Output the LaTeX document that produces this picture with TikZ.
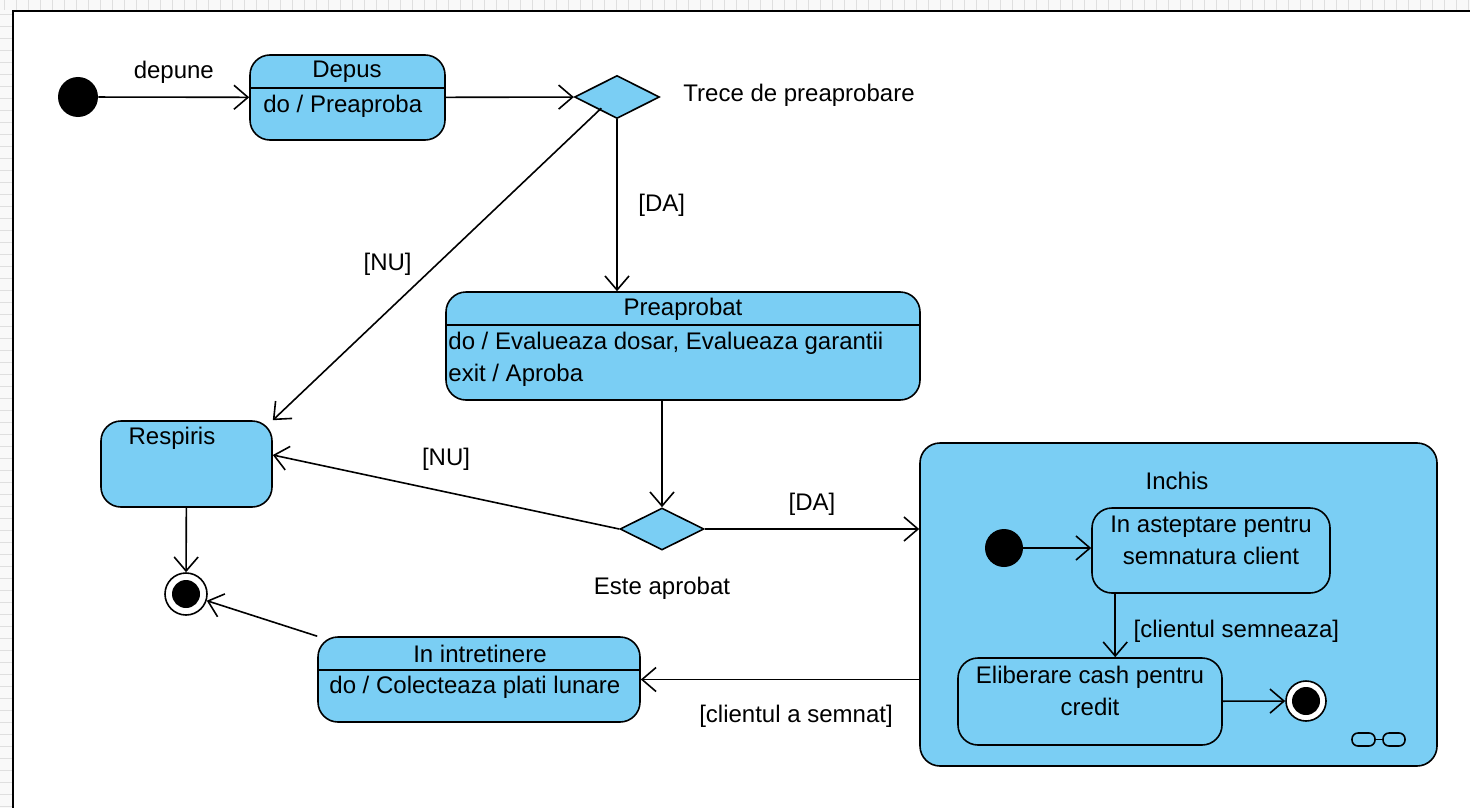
\documentclass[tikz,border=0pt]{standalone}
\usepackage{fontspec}
\setmainfont{Liberation Sans}
\usepackage{xcolor}
\usepackage{tikz}
\usetikzlibrary{shapes.geometric, arrows.meta, fit}

\definecolor{stateblue}{RGB}{122,206,244}

\tikzset{
    box/.style={draw, fill=stateblue, rounded corners=10pt, line width=0.8pt, inner sep=0pt},
    choice/.style={diamond, draw, fill=stateblue, line width=0.8pt, inner sep=0pt, aspect=2},
    start/.style={circle, fill=black, inner sep=0pt},
    stop/.style={circle, draw, fill=white, line width=0.8pt, inner sep=0pt,
        path picture={\fill[black] (path picture bounding box.center) circle (7pt);}},
    txt/.style={inner sep=0pt},
    tr/.style={line width=0.8pt, -{Straight Barb[length=7pt,width=12pt]}}
}

\begin{document}
\begin{tikzpicture}[x=0.5pt, y=-0.5pt, font=\fontsize{12}{16}\selectfont]
    \useasboundingbox (0,0) rectangle (1470,808);
    \fill[gray!5] (0,0) rectangle (1470,11);
    \fill[gray!5] (0,0) rectangle (13,808);
    \foreach \i in {4,16,...,1470} \draw[gray!25] (\i,0) -- (\i,10);
    \foreach \j in {14,26,...,808} \draw[gray!25] (0,\j) -- (12,\j);
    \draw[line width=1pt] (1470,11) -- (13,11) -- (13,808);

    \node[start, minimum size=20pt] (init) at (78,97) {};
    \node[box, fit={(250,55) (445,140)}] (depus) {};
    \draw[line width=0.8pt] (250,88) -- (445,88);
    \node[txt] (depusT) at (347,72) {Depus};
    \node[txt, anchor=west] (depusD) at (263,106) {do / Preaproba};

    \node[choice, minimum width=42.5pt, minimum height=21.5pt] (dec1) at (617,97) {};
    \node[txt, anchor=west] (treceL) at (683,95) {Trece de preaprobare};

    \node[box, fit={(446,292) (920,400)}] (preaprobat) {};
    \draw[line width=0.8pt] (446,325) -- (920,325);
    \node[txt] (preaprobatT) at (683,309) {Preaprobat};
    \node[txt, anchor=west] (preaprobatD) at (448,343) {do / Evalueaza dosar, Evalueaza garantii};
    \node[txt, anchor=west] (preaprobatE) at (448,375) {exit / Aproba};

    \node[box, fit={(101,421) (272,507)}] (respiris) {};
    \node[txt] (respirisT) at (172,438) {Respiris};
    \node[stop, minimum size=21pt] (final1) at (186,594) {};

    \node[choice, minimum width=42pt, minimum height=21pt] (dec2) at (662,529) {};
    \node[txt] (esteL) at (662,588) {Este aprobat};

    \node[box, fit={(318,637) (640,722)}] (intretinere) {};
    \draw[line width=0.8pt] (318,670) -- (640,670);
    \node[txt] (intretinereT) at (480,654) {In intretinere};
    \node[txt, anchor=west] (intretinereD) at (329,687) {do / Colecteaza plati lunare};

    \node[box, fit={(920,443) (1437,766)}] (inchis) {};
    \node[txt] (inchisT) at (1177,481) {Inchis};
    \node[start, minimum size=19pt] (init2) at (1004,548) {};
    \node[box, fit={(1092,508) (1330,593)}] (asteptare) {};
    \node[txt, align=center] (asteptareT) at (1211,540) {In asteptare pentru\\semnatura client};
    \node[box, fit={(958,658) (1222,745)}] (eliberare) {};
    \node[txt, align=center] (eliberareT) at (1090,691) {Eliberare cash pentru\\credit};
    \node[stop, minimum size=20pt] (final2) at (1306,701) {};
    \draw[line width=0.8pt, rounded corners=3pt] (1352,733) rectangle (1375,746);
    \draw[line width=0.8pt, rounded corners=3pt] (1383,733) rectangle (1405,746);
    \draw[line width=0.8pt] (1375,739.5) -- (1383,739.5);

    \draw[tr] (init) -- node[above=3pt] {depune} (depus);
    \draw[tr] (depus) -- (dec1);
    \draw[tr] (dec1.south) -- node[right=7pt] {[DA]} (dec1.south |- preaprobat.north);
    \draw[tr] ([xshift=3pt]dec1.south west) -- node[left=9pt] {[NU]} (respiris.north east);
    \draw[tr] (preaprobat.south -| dec2.north) -- (dec2.north);
    \draw[tr] (dec2.west) -- node[above=7pt] {[NU]} ([yshift=4.5pt]respiris.east);
    \draw[tr] (dec2.east) -- node[above=3pt] {[DA]} (dec2.east -| inchis.west);
    \draw[tr] (respiris) -- (final1);
    \draw[tr] (inchis.west |- intretinere.east) -- node[below=9pt, xshift=8pt] {[clientul a semnat]} (intretinere.east);
    \draw[tr] (intretinere.north west) -- (final1);
    \draw[tr] (init2) -- (init2 -| asteptare.west);
    \draw[tr] ([xshift=12pt]asteptare.south west) -- node[right=5.5pt, yshift=-3pt] {[clientul semneaza]} ([xshift=79pt]eliberare.north west);
    \draw[tr] (eliberare) -- (final2);
\end{tikzpicture}
\end{document}
